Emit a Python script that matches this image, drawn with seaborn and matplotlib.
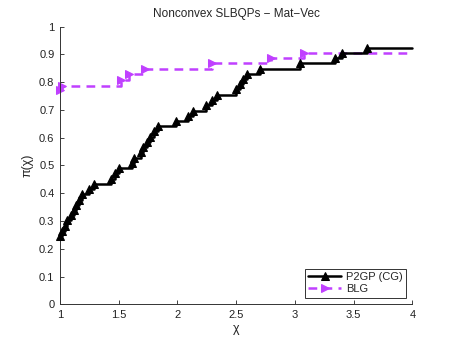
import numpy as np
import pandas as pd
import matplotlib
matplotlib.use('Agg')
import matplotlib.pyplot as plt
import seaborn as sns

# performance profile data (step points)
p2gp_x = [1.00, 1.02, 1.04, 1.06, 1.09, 1.12, 1.14, 1.16, 1.19, 1.25,
          1.29, 1.43, 1.47, 1.50, 1.61, 1.63, 1.69, 1.71, 1.74, 1.77,
          1.80, 1.83, 1.99, 2.09, 2.13, 2.24, 2.29, 2.34, 2.50, 2.53,
          2.56, 2.59, 2.70, 3.04, 3.34, 3.40, 3.61]
p2gp_y = [0.245, 0.264, 0.283, 0.302, 0.321, 0.340, 0.358, 0.377, 0.396, 0.415,
          0.434, 0.453, 0.472, 0.491, 0.509, 0.528, 0.547, 0.566, 0.585, 0.604,
          0.623, 0.642, 0.660, 0.679, 0.698, 0.717, 0.736, 0.755, 0.774, 0.792,
          0.811, 0.830, 0.849, 0.868, 0.887, 0.906, 0.925]

blg_x = [1.00, 1.02, 1.52, 1.59, 1.72, 2.29, 2.80, 3.08]
blg_y = [0.772, 0.787, 0.808, 0.828, 0.847, 0.868, 0.887, 0.906]

x_max = 4.0
xticks = [1, 1.5, 2, 2.5, 3, 3.5, 4]
xtick_labels = ['1', '1.5', '2', '2.5', '3', '3.5', '4']
yticks = [0, 0.1, 0.2, 0.3, 0.4, 0.5, 0.6, 0.7, 0.8, 0.9, 1]
ytick_labels = ['0', '0.1', '0.2', '0.3', '0.4', '0.5', '0.6', '0.7', '0.8', '0.9', '1']

sns.set_style('white')
plt.rcParams['font.family'] = ['Liberation Sans', 'DejaVu Sans']

fig = plt.figure(figsize=(4.57, 3.44), dpi=100)
ax = fig.add_axes([0.1313, 0.1154, 0.7713, 0.807])

# extend each curve flat to the right edge (no marker on that point)
df_p = pd.DataFrame({'x': p2gp_x + [x_max], 'y': p2gp_y + [p2gp_y[-1]]})
df_b = pd.DataFrame({'x': blg_x + [x_max], 'y': blg_y + [blg_y[-1]]})

sns.lineplot(data=df_b, x='x', y='y', ax=ax, sort=False, estimator=None,
             color='#c040ff', linewidth=1.8, linestyle=(0, (3.5, 2.5)),
             marker='>', markersize=6.2, markeredgecolor='#c040ff',
             markevery=list(range(len(blg_x))), drawstyle='steps-post',
             label='BLG', clip_on=False, zorder=2)
sns.lineplot(data=df_p, x='x', y='y', ax=ax, sort=False, estimator=None,
             color='black', linewidth=1.8, marker='^', markersize=6.2,
             markeredgecolor='black', markevery=list(range(len(p2gp_x))),
             drawstyle='steps-post', label='P2GP (CG)', clip_on=False, zorder=3)

ax.set_xlim(1, 4)
ax.set_ylim(0, 1)
ax.set_xticks(xticks)
ax.set_xticklabels(xtick_labels)
ax.set_yticks(yticks)
ax.set_yticklabels(ytick_labels)
ax.tick_params(direction='in', length=3, width=0.6, labelsize=8, colors='#222222',
               pad=4, top=False, right=False, bottom=True, left=True)
for s in ['top', 'right']:
    ax.spines[s].set_visible(False)
for s in ['left', 'bottom']:
    ax.spines[s].set_color('#333333')
    ax.spines[s].set_linewidth(0.7)

ax.set_title('Nonconvex SLBQPs \u2212 Mat\u2212Vec', fontsize=8.5, pad=7)
ax.set_xlabel('\u03c7', fontsize=9, labelpad=2)
ax.set_ylabel('\u03c0(\u03c7)', fontsize=9, labelpad=4)

handles, labels = ax.get_legend_handles_labels()
order = [labels.index('P2GP (CG)'), labels.index('BLG')]
leg = ax.legend([handles[i] for i in order], [labels[i] for i in order],
                loc='lower right', fontsize=8, frameon=True, fancybox=False,
                framealpha=1, edgecolor='#333333', handlelength=3.0,
                borderpad=0.3, labelspacing=0.2, handletextpad=0.4,
                borderaxespad=0.6)
leg.get_frame().set_linewidth(0.7)

fig.savefig('out.png', dpi=100)
